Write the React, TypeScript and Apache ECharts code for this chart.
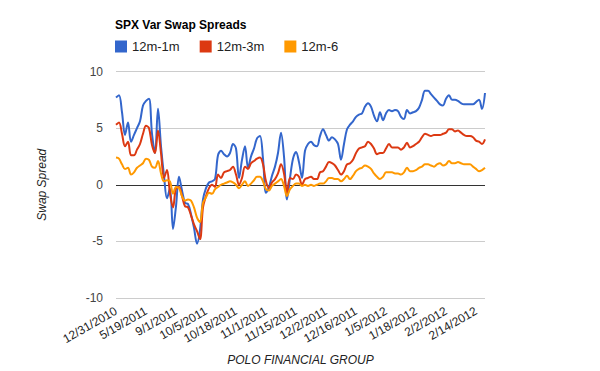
import React, { useEffect, useRef } from "react";
import * as echarts from "echarts";

const categories: string[] = [
  "12/31/2010", "1/14/2011", "1/31/2011", "2/14/2011", "2/28/2011", "3/14/2011", "3/28/2011", "4/11/2011", "4/25/2011", "5/6/2011",
  "5/19/2011", "5/31/2011", "6/10/2011", "6/21/2011", "7/1/2011", "7/13/2011", "7/25/2011", "8/4/2011", "8/15/2011", "8/24/2011",
  "9/1/2011", "9/6/2011", "9/9/2011", "9/13/2011", "9/16/2011", "9/20/2011", "9/23/2011", "9/27/2011", "9/29/2011", "10/3/2011",
  "10/5/2011", "10/6/2011", "10/7/2011", "10/10/2011", "10/11/2011", "10/12/2011", "10/13/2011", "10/14/2011", "10/15/2011", "10/17/2011",
  "10/18/2011", "10/19/2011", "10/20/2011", "10/21/2011", "10/24/2011", "10/25/2011", "10/26/2011", "10/27/2011", "10/28/2011", "10/31/2011",
  "11/1/2011", "11/2/2011", "11/3/2011", "11/4/2011", "11/7/2011", "11/8/2011", "11/9/2011", "11/10/2011", "11/11/2011", "11/14/2011",
  "11/15/2011", "11/16/2011", "11/17/2011", "11/18/2011", "11/21/2011", "11/22/2011", "11/23/2011", "11/28/2011", "11/29/2011", "12/1/2011",
  "12/2/2011", "12/5/2011", "12/6/2011", "12/7/2011", "12/8/2011", "12/9/2011", "12/12/2011", "12/13/2011", "12/14/2011", "12/15/2011",
  "12/16/2011", "12/19/2011", "12/20/2011", "12/21/2011", "12/23/2011", "12/28/2011", "12/29/2011", "12/30/2011", "1/3/2012", "1/4/2012",
  "1/5/2012", "1/6/2012", "1/9/2012", "1/10/2012", "1/11/2012", "1/12/2012", "1/13/2012", "1/14/2012", "1/16/2012", "1/17/2012",
  "1/18/2012", "1/19/2012", "1/20/2012", "1/23/2012", "1/24/2012", "1/25/2012", "1/26/2012", "1/27/2012", "1/30/2012", "1/31/2012",
  "2/2/2012", "2/3/2012", "2/4/2012", "2/6/2012", "2/7/2012", "2/8/2012", "2/9/2012", "2/10/2012", "2/11/2012", "2/13/2012",
  "2/14/2012", "2/15/2012", "2/16/2012", "2/17/2012",
];

const s12m1m: number[] = [
  7.7, 7.9, 6.4, 4.4, 5.5, 3.8, 4.4, 5.0, 5.6, 7.0,
  7.4, 7.6, 4.5, 2.8, 6.7, 3.4, 0.8, -1.2, -0.3, -3.9,
  -1.9, 0.7, -0.5, -1.6, -1.7, -2.6, -3.8, -5.2, -4.0, -1.3,
  -0.3, 0.2, 0.3, 0.5, 2.6, 3.0, 2.7, 2.5, 2.8, 3.6,
  3.2, 0.6, 2.2, 3.4, 1.5, 2.5, 3.2, 4.1, 4.3, 2.3,
  -0.7, -0.2, 0.8, 1.6, 2.8, 4.6, 2.5, -1.3, 0.6, 2.3,
  2.9, 2.0, 0.6, 3.0, 3.6, 3.8, 3.5, 3.4, 4.3, 4.9,
  4.4, 3.9, 4.2, 4.0, 3.6, 2.2, 3.6, 4.9, 5.3, 5.6,
  6.0, 6.2, 6.3, 6.9, 7.2, 6.9, 6.1, 5.6, 6.4, 5.7,
  6.3, 6.6, 6.5, 6.6, 6.5, 6.0, 5.8, 6.6, 6.3, 6.4,
  6.5, 6.8, 7.5, 8.3, 8.3, 8.0, 7.7, 7.4, 7.1, 7.0,
  7.6, 7.9, 7.5, 7.5, 7.4, 7.2, 7.1, 7.1, 7.1, 7.1,
  7.3, 7.5, 6.7, 8.1,
];

const s12m3m: number[] = [
  5.3, 5.5, 4.5, 3.4, 3.8, 2.6, 2.6, 3.1, 3.6, 4.5,
  5.2, 5.0, 3.5, 2.8, 4.8, 2.8, 0.6, 1.3, -0.8, -2.0,
  -0.3, -0.2, -1.0, -1.9, -2.0, -2.7, -3.5, -4.1, -4.8, -2.0,
  -1.0, -0.3, 0.0, -0.2, 0.9, 0.6, 1.1, 1.2, 1.3, 1.6,
  0.9, 0.0, 0.6, 1.6, 1.4, 1.9, 2.1, 2.3, 2.4, 1.8,
  0.3, -0.3, 0.2, 0.5, 1.0, 1.8, 1.0, -0.7, 0.6, 0.5,
  0.9, 0.7, 0.0, 0.5, 0.6, 0.7, 0.5, 0.5, 1.1, 1.2,
  1.6, 2.0, 1.9, 1.7, 1.3, 0.9, 1.2, 1.8, 1.9, 2.2,
  2.8, 3.2, 3.3, 3.4, 3.8, 3.6, 3.2, 2.7, 2.8, 2.8,
  3.2, 3.6, 3.3, 3.3, 3.3, 3.1, 3.3, 3.7, 3.3, 3.4,
  3.6, 3.8, 4.2, 4.5, 4.4, 4.3, 4.4, 4.4, 4.4, 4.5,
  4.6, 4.9, 4.9, 4.7, 4.8, 4.6, 4.4, 4.3, 4.3, 4.2,
  3.9, 3.8, 3.6, 4.0,
];

const s12m6: number[] = [
  2.4, 2.3, 1.8, 1.4, 1.5, 0.9, 1.1, 1.5, 1.7, 1.9,
  2.3, 2.2, 1.6, 1.5, 2.1, 1.0, 0.3, 0.4, 0.3, -0.8,
  -0.2, -0.3, -1.0, -1.4, -1.3, -1.4, -2.0, -2.9, -3.3, -1.6,
  -1.1, -0.7, -0.8, -0.4, -0.2, 0.0, 0.1, 0.2, 0.3, 0.2,
  0.0, -0.3, 0.0, 0.3, -0.1, 0.1, 0.4, 0.7, 0.7, 0.3,
  -0.4, -0.5, -0.1, 0.1, 0.3, 0.5, -0.1, -1.0, -0.4, -0.1,
  0.1, 0.1, -0.1, 0.0, -0.1, 0.0, -0.1, 0.0, 0.1, 0.1,
  0.3, 0.6, 0.6, 0.5, 0.5, 0.3, 0.5, 0.8, 0.5, 0.8,
  1.2, 1.4, 1.5, 1.7, 1.6, 1.4, 1.0, 0.7, 0.5, 0.7,
  1.1, 1.1, 1.1, 1.0, 1.0, 0.9, 1.1, 1.5, 1.2, 1.2,
  1.3, 1.5, 1.6, 1.8, 1.8, 1.7, 1.6, 1.8, 1.9, 1.7,
  1.8, 2.1, 1.9, 1.9, 2.0, 1.9, 1.8, 1.8, 1.8, 1.6,
  1.4, 1.2, 1.3, 1.5,
];

const seriesNames: string[] = ["12m-1m", "12m-3m", "12m-6"];
const seriesColors: string[] = ["#3366cc", "#dc3912", "#ff9900"];
const yTicks: number[] = [-10, -5, 0, 5, 10];

const FONT = "'Liberation Sans', Arial, sans-serif";

export default function App() {
  const ref = useRef<HTMLDivElement>(null);

  useEffect(() => {
    if (!ref.current) return;
    document.body.style.margin = "0";
    const chart = echarts.init(ref.current, undefined, { renderer: "svg" });
    const data = [s12m1m, s12m3m, s12m6];
    chart.setOption({
      animation: false,
      backgroundColor: "#ffffff",
      textStyle: { fontFamily: FONT },
      title: {
        text: "SPX Var Swap Spreads",
        left: 115,
        top: 19,
        padding: 0,
        textStyle: { fontFamily: FONT, fontSize: 12, fontWeight: "bold", color: "#000000" },
      },
      legend: {
        left: 115,
        top: 40,
        padding: 0,
        icon: "rect",
        itemWidth: 12,
        itemHeight: 12,
        itemGap: 20,
        data: seriesNames,
        textStyle: { fontFamily: FONT, fontSize: 13, color: "#222222" },
      },
      grid: { left: 116, right: 115, top: 71.5, bottom: 71.5 },
      xAxis: {
        type: "category",
        data: categories,
        boundaryGap: false,
        name: "POLO FINANCIAL GROUP",
        nameLocation: "middle",
        nameGap: 56,
        nameTextStyle: { fontFamily: FONT, fontSize: 12, fontStyle: "italic", color: "#222222" },
        axisLine: { show: false },
        axisTick: { show: false },
        splitLine: { show: false },
        axisLabel: {
          interval: 9,
          rotate: 30,
          margin: 12,
          fontFamily: FONT,
          fontSize: 12,
          color: "#222222",
        },
      },
      yAxis: {
        type: "value",
        min: yTicks[0],
        max: yTicks[yTicks.length - 1],
        interval: 5,
        name: "Swap Spread",
        nameLocation: "middle",
        nameGap: 68,
        nameTextStyle: { fontFamily: FONT, fontSize: 12, fontStyle: "italic", color: "#222222" },
        axisLine: { show: false },
        axisTick: { show: false },
        axisLabel: { margin: 13, fontFamily: FONT, fontSize: 12, color: "#444444" },
        splitLine: {
          show: true,
          lineStyle: { color: ["#cccccc", "#cccccc", "#333333", "#cccccc", "#cccccc"], width: 1 },
        },
      },
      series: seriesNames.map((name, k) => ({
        name,
        type: "line",
        data: data[k],
        smooth: 0.35,
        symbol: "none",
        showSymbol: false,
        lineStyle: { width: 2, color: seriesColors[k] },
        itemStyle: { color: seriesColors[k] },
      })),
    });
    return () => chart.dispose();
  }, []);

  return (
    <div
      ref={ref}
      style={{ position: "absolute", left: 0, top: 0, width: 600, height: 371 }}
    />
  );
}
